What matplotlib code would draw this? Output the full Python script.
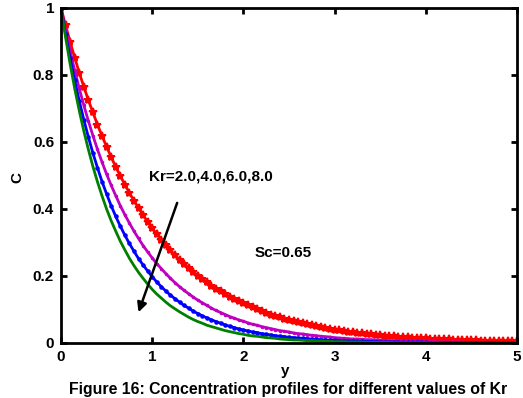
import numpy as np
import matplotlib
matplotlib.use("Agg")
import matplotlib.pyplot as plt

# y grid (0 to 5, step 0.05) and concentration values
y = np.linspace(0, 5, 101)

c_kr2 = [1.000, 0.948, 0.899, 0.852, 0.807, 0.765, 0.725, 0.688, 0.652, 0.618,
         0.586, 0.555, 0.526, 0.499, 0.473, 0.448, 0.425, 0.403, 0.382, 0.362,
         0.343, 0.325, 0.308, 0.292, 0.277, 0.262, 0.249, 0.236, 0.224, 0.212,
         0.201, 0.190, 0.181, 0.171, 0.162, 0.154, 0.146, 0.138, 0.131, 0.124,
         0.118, 0.112, 0.106, 0.100, 0.095, 0.090, 0.085, 0.081, 0.077, 0.073,
         0.069, 0.065, 0.062, 0.059, 0.056, 0.053, 0.050, 0.047, 0.045, 0.043,
         0.040, 0.038, 0.036, 0.034, 0.033, 0.031, 0.029, 0.028, 0.026, 0.025,
         0.024, 0.022, 0.021, 0.020, 0.019, 0.018, 0.017, 0.016, 0.015, 0.015,
         0.014, 0.013, 0.012, 0.012, 0.011, 0.011, 0.010, 0.010, 0.009, 0.009,
         0.008, 0.008, 0.007, 0.007, 0.007, 0.006, 0.006, 0.006, 0.005, 0.005,
         0.005]

c_kr4 = [1.000, 0.934, 0.872, 0.814, 0.760, 0.710, 0.663, 0.619, 0.578, 0.540,
         0.504, 0.471, 0.440, 0.410, 0.383, 0.358, 0.334, 0.312, 0.291, 0.272,
         0.254, 0.237, 0.222, 0.207, 0.193, 0.180, 0.168, 0.157, 0.147, 0.137,
         0.128, 0.120, 0.112, 0.104, 0.097, 0.091, 0.085, 0.079, 0.074, 0.069,
         0.065, 0.060, 0.056, 0.053, 0.049, 0.046, 0.043, 0.040, 0.037, 0.035,
         0.033, 0.030, 0.028, 0.027, 0.025, 0.023, 0.022, 0.020, 0.019, 0.018,
         0.016, 0.015, 0.014, 0.013, 0.012, 0.012, 0.011, 0.010, 0.010, 0.009,
         0.008, 0.008, 0.007, 0.007, 0.006, 0.006, 0.005, 0.005, 0.005, 0.004,
         0.004, 0.004, 0.004, 0.003, 0.003, 0.003, 0.003, 0.003, 0.002, 0.002,
         0.002, 0.002, 0.002, 0.002, 0.002, 0.001, 0.001, 0.001, 0.001, 0.001,
         0.001]

c_kr6 = [1.000, 0.922, 0.850, 0.784, 0.723, 0.667, 0.615, 0.567, 0.523, 0.482,
         0.445, 0.410, 0.378, 0.349, 0.322, 0.297, 0.274, 0.252, 0.233, 0.215,
         0.198, 0.182, 0.168, 0.155, 0.143, 0.132, 0.122, 0.112, 0.104, 0.095,
         0.088, 0.081, 0.075, 0.069, 0.064, 0.059, 0.054, 0.050, 0.046, 0.042,
         0.039, 0.036, 0.033, 0.031, 0.028, 0.026, 0.024, 0.022, 0.020, 0.019,
         0.017, 0.016, 0.015, 0.014, 0.013, 0.012, 0.011, 0.010, 0.009, 0.008,
         0.008, 0.007, 0.007, 0.006, 0.006, 0.005, 0.005, 0.004, 0.004, 0.004,
         0.003, 0.003, 0.003, 0.003, 0.002, 0.002, 0.002, 0.002, 0.002, 0.002,
         0.002, 0.001, 0.001, 0.001, 0.001, 0.001, 0.001, 0.001, 0.001, 0.001,
         0.001, 0.001, 0.001, 0.001, 0.001, 0.001, 0.000, 0.000, 0.000, 0.000,
         0.000]

c_kr8 = [1.000, 0.913, 0.833, 0.760, 0.694, 0.633, 0.578, 0.527, 0.481, 0.439,
         0.400, 0.365, 0.334, 0.304, 0.278, 0.253, 0.231, 0.211, 0.193, 0.176,
         0.160, 0.146, 0.134, 0.122, 0.111, 0.102, 0.093, 0.085, 0.077, 0.070,
         0.064, 0.059, 0.053, 0.049, 0.045, 0.041, 0.037, 0.034, 0.031, 0.028,
         0.026, 0.023, 0.021, 0.020, 0.018, 0.016, 0.015, 0.014, 0.012, 0.011,
         0.010, 0.009, 0.009, 0.008, 0.007, 0.007, 0.006, 0.006, 0.005, 0.005,
         0.004, 0.004, 0.004, 0.003, 0.003, 0.003, 0.003, 0.002, 0.002, 0.002,
         0.002, 0.002, 0.002, 0.001, 0.001, 0.001, 0.001, 0.001, 0.001, 0.001,
         0.001, 0.001, 0.001, 0.001, 0.000, 0.000, 0.000, 0.000, 0.000, 0.000,
         0.000, 0.000, 0.000, 0.000, 0.000, 0.000, 0.000, 0.000, 0.000, 0.000,
         0.000]

x_ticks = [0, 1, 2, 3, 4, 5]
y_ticks = [0, 0.2, 0.4, 0.6, 0.8, 1]
y_tick_labels = ["0", "0.2", "0.4", "0.6", "0.8", "1"]

plt.rcParams["font.family"] = ["Liberation Sans", "DejaVu Sans"]
plt.rcParams["font.weight"] = "bold"

fig = plt.figure(figsize=(5.23, 3.98), dpi=100)
ax = fig.add_axes([0.1166, 0.1382, 0.8719, 0.8418])

ax.plot(y, c_kr2, color="red", lw=2.0, marker="*", ms=6, mew=1.4)
ax.plot(y, c_kr4, color="#bf00bf", lw=2.0, marker=".", ms=3)
ax.plot(y, c_kr6, color="blue", lw=2.0, marker=".", ms=4.5)
ax.plot(y, c_kr8, color="green", lw=2.0)

ax.set_xlim(0, 5)
ax.set_ylim(0, 1)
ax.set_xticks(x_ticks)
ax.set_xticklabels([str(t) for t in x_ticks])
ax.set_yticks(y_ticks)
ax.set_yticklabels(y_tick_labels)
ax.tick_params(direction="in", length=4, width=2, top=True, right=True,
               labelsize=11)
ax.tick_params(axis="x", pad=5)
ax.tick_params(axis="y", pad=5)
for lbl in ax.get_xticklabels() + ax.get_yticklabels():
    lbl.set_fontweight("bold")
for sp in ax.spines.values():
    sp.set_linewidth(2)

ax.text(1.64, 0.496, "Kr=2.0,4.0,6.0,8.0", fontsize=11, fontweight="bold",
        ha="center", va="center")
ax.text(2.44, 0.269, "Sc=0.65", fontsize=11, fontweight="bold",
        ha="center", va="center")
ax.annotate("", xy=(0.84, 0.084), xytext=(1.284, 0.426),
            arrowprops=dict(arrowstyle="-|>", color="black", lw=1.8,
                            mutation_scale=14))

# axis labels as figure text so they sit where the source figure has them
fig.text(0.545, 0.068, "y", fontsize=11, fontweight="bold", ha="center", va="center")
fig.text(0.034, 0.553, "C", fontsize=11, fontweight="bold", ha="center",
         va="center", rotation=90)
# caption sits at the very bottom edge, as in the source figure
fig.text(0.55, 0.002, "Figure 16: Concentration profiles for different values of Kr",
         fontsize=11.4, fontweight="bold", ha="center", va="bottom")

fig.savefig("out.png", dpi=100)
